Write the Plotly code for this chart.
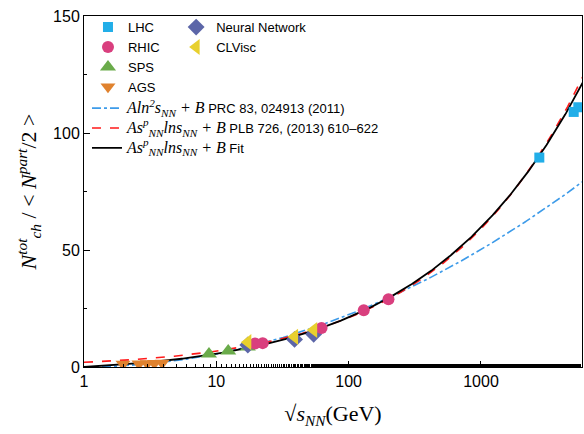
import numpy as np
import plotly.graph_objects as go

# ---- data ----
lhc_x = [2760, 5020, 5440]
lhc_y = [89.5, 109.0, 111.0]
rhic_x = [19.6, 22.4, 62.4, 130, 200]
rhic_y = [10.0, 10.2, 16.7, 24.3, 29.0]
sps_x = [8.8, 12.3, 17.3]
sps_y = [5.6, 6.8, 8.5]
ags_x = [1.97, 2.6, 3.0, 3.4, 3.9]
ags_y = [1.3, 1.4, 1.5, 1.6, 1.7]
nn_x = [17.3, 39, 54.4]
nn_y = [9.4, 11.8, 14.0]
clv_x = [17.3, 39, 54.4]
clv_y = [10.6, 12.9, 15.8]

# fit-function parameters
blue_A, blue_B = 0.263, 0.0             # A ln^2 s + B
red_A, red_p, red_B = 0.52, 0.150, 2.0  # A s^p ln s + B
blk_A, blk_p, blk_B = 0.653, 0.1367, 0.0

xs = np.logspace(0, np.log10(6000), 400)
s = xs ** 2
blue_y = blue_A * np.log(s) ** 2 + blue_B
red_y = red_A * s ** red_p * np.log(s) + red_B
blk_y = blk_A * s ** blk_p * np.log(s) + blk_B

SERIF = "Liberation Serif, serif"
SANS = "Liberation Sans, Arial"

def m(t):
    return f"<span style='font-family:{SERIF};font-size:16px'><i>{t}</i></span>"

fig = go.Figure()

fig.add_trace(go.Scatter(x=xs, y=blue_y, mode="lines",
    line=dict(color="#3d9be9", width=1.6, dash="dashdot"),
    name=m("Aln<sup>2</sup>s<sub>NN</sub>") + m(" + B") + " PRC 83, 024913 (2011)",
    legend="legend3"))
fig.add_trace(go.Scatter(x=xs, y=red_y, mode="lines",
    line=dict(color="#ff1a1a", width=1.6, dash="dash"),
    name=m("As<sup>p</sup><sub>NN</sub>lns<sub>NN</sub>") + m(" + B") + " PLB 726, (2013) 610–622",
    legend="legend3"))
fig.add_trace(go.Scatter(x=xs, y=blk_y, mode="lines",
    line=dict(color="black", width=1.8),
    name=m("As<sup>p</sup><sub>NN</sub>lns<sub>NN</sub>") + m(" + B") + " Fit",
    legend="legend3"))

def pts(x, y, name, sym, color, size, leg):
    fig.add_trace(go.Scatter(x=x, y=y, mode="markers", name=name,
        marker=dict(symbol=sym, color=color, size=size, line=dict(width=0)),
        legend=leg))

pts(ags_x, ags_y, "AGS", "triangle-down", "#e0822e", 13, "legend")
pts(sps_x, sps_y, "SPS", "triangle-up", "#6aab4a", 14, "legend")
pts(nn_x, nn_y, "Neural Network", "diamond", "#5c66a8", 13, "legend2")
pts(rhic_x, rhic_y, "RHIC", "circle", "#d93f7e", 12, "legend")
pts(clv_x, clv_y, "CLVisc", "triangle-left", "#e8d02e", 14, "legend2")
pts(lhc_x, lhc_y, "LHC", "square", "#22aee8", 10, "legend")

leg_common = dict(bgcolor="rgba(0,0,0,0)", font=dict(family=SANS, size=13, color="black"),
                  xanchor="left", yanchor="top", tracegroupgap=0, itemwidth=30)
fig.update_layout(
    width=584, height=434,
    margin=dict(l=84, r=2, t=16, b=67),
    plot_bgcolor="white", paper_bgcolor="white",
    showlegend=True,
    legend=dict(x=0.008, y=1.011, traceorder="reversed", **leg_common),
    legend2=dict(x=0.185, y=1.011, traceorder="normal", **leg_common),
    legend3=dict(x=0.006, y=0.780, traceorder="normal", **leg_common),
    xaxis=dict(type="log", range=[0, np.log10(5800)],
               tickvals=[1, 10, 100, 1000], ticktext=["1", "10", "100", "1000"],
               ticks="inside", ticklen=6, tickcolor="black",
               minor=dict(ticks="inside", ticklen=3, tickcolor="black", showgrid=False),
               showline=True, linecolor="black", linewidth=1, mirror=True,
               showgrid=False, zeroline=False,
               tickfont=dict(family=SANS, size=16, color="black"),
               title=dict(text="√<i>s<sub>NN</sub></i>(GeV)", standoff=16,
                          font=dict(family=SERIF, size=22, color="black"))),
    yaxis=dict(range=[0, 150], tickvals=[0, 50, 100, 150],
               ticks="inside", ticklen=6, tickcolor="black",
               minor=dict(tickvals=[25, 75, 125], ticks="inside", ticklen=3, tickcolor="black", showgrid=False),
               showline=True, linecolor="black", linewidth=1, mirror=True,
               showgrid=False, zeroline=False,
               tickfont=dict(family=SANS, size=16, color="black"),
               title=dict(text="<i>N<sup>tot</sup><sub>ch</sub></i> / < <i>N<sup>part</sup></i>/2 >", standoff=10,
                          font=dict(family=SERIF, size=22, color="black"))),
)

fig.write_html("out.html", config={"displayModeBar": False},
               post_script="document.body.style.margin='0';")
